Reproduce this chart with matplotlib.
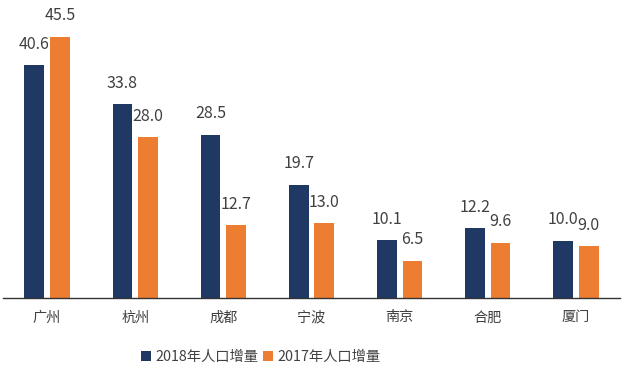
import matplotlib
matplotlib.use("Agg")
import matplotlib.pyplot as plt
import numpy as np

plt.rcParams['font.family'] = ['Noto Sans CJK SC', 'DejaVu Sans']

categories = ["广州", "杭州", "成都", "宁波", "南京", "合肥", "厦门"]
v2018 = [40.6, 33.8, 28.5, 19.7, 10.1, 12.2, 10.0]
v2017 = [45.5, 28.0, 12.7, 13.0, 6.5, 9.6, 9.0]
series_names = ["2018年人口增量", "2017年人口增量"]

navy = "#203864"
orange = "#ED7D31"
txt = "#404040"

fig = plt.figure(figsize=(6.27, 3.75), dpi=100)
ax = fig.add_axes([3 / 627, 1 - 298 / 375, 617 / 627, (298 - 10) / 375])

x = np.arange(len(categories))
w = 0.225
off = 0.145
b1 = ax.bar(x - off, v2018, w, color=navy, label=series_names[0])
b2 = ax.bar(x + off, v2017, w, color=orange, label=series_names[1])

for bars, vals in ((b1, v2018), (b2, v2017)):
    for r, v in zip(bars, vals):
        ax.annotate(f"{v:.1f}", (r.get_x() + r.get_width() / 2, v),
                    xytext=(0, 9), textcoords="offset points",
                    ha="center", va="bottom", fontsize=11.5, color=txt)

ax.set_xlim(-0.5, len(categories) - 0.5)
ax.set_ylim(0, (298 - 10) / ((298 - 37) / 45.5))
ax.set_xticks(x)
ax.set_xticklabels(categories, fontsize=10.2, color=txt)
ax.tick_params(axis='x', length=0, pad=9)
ax.set_yticks([])
for s in ("left", "right", "top"):
    ax.spines[s].set_visible(False)
ax.spines["bottom"].set_color("#333333")
ax.spines["bottom"].set_linewidth(1.0)

leg = fig.legend(loc="center", bbox_to_anchor=(261 / 627, 1 - 357 / 375),
                 ncol=2, frameon=False, fontsize=10.3, handlelength=0.7,
                 handleheight=0.7, handletextpad=0.3, columnspacing=0.3)
for t in leg.get_texts():
    t.set_color(txt)

fig.savefig("out.png", dpi=100)
